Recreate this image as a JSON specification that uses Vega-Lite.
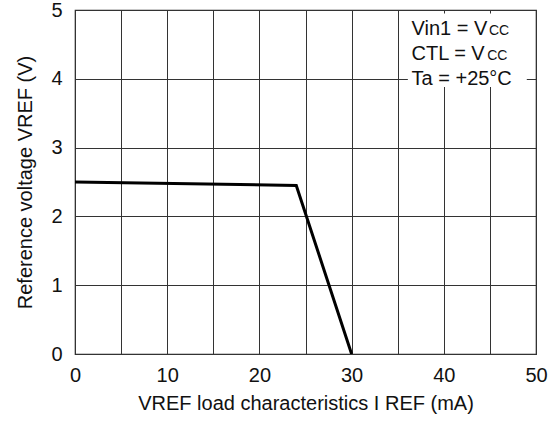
{
  "$schema": "https://vega.github.io/schema/vega-lite/v6.json",
  "width": 461,
  "height": 344,
  "autosize": {"type": "none"},
  "padding": {"left": 75, "top": 10, "right": 16, "bottom": 69},
  "config": {
    "font": "Liberation Sans",
    "view": {"stroke": "#222", "strokeWidth": 1.2},
    "axis": {
      "grid": true,
      "gridColor": "#333",
      "gridOpacity": 1,
      "gridWidth": 1,
      "ticks": false,
      "domain": false,
      "labelFontSize": 20,
      "labelColor": "#111",
      "labelFont": "Liberation Sans",
      "titleFont": "Liberation Sans",
      "titleFontSize": 20,
      "titleFontWeight": "normal",
      "titleColor": "#111",
      "labelFlush": false,
      "labelOverlap": false,
      "labelBound": false
    }
  },
  "layer": [
    {
      "data": {"values": [
        {"i": 0, "v": 2.5},
        {"i": 24, "v": 2.45},
        {"i": 30, "v": 0}
      ]},
      "mark": {"type": "line", "color": "black", "strokeWidth": 3, "clip": true},
      "encoding": {
        "x": {"field": "i", "type": "quantitative",
          "scale": {"domain": [0, 50], "nice": false, "zero": false},
          "axis": {
            "values": [0, 5, 10, 15, 20, 25, 30, 35, 40, 45, 50],
            "format": "~g",
            "labelExpr": "datum.value % 10 === 0 ? datum.label : ''",
            "labelPadding": 11,
            "title": "VREF load characteristics I REF (mA)",
            "titlePadding": 8
          }},
        "y": {"field": "v", "type": "quantitative",
          "scale": {"domain": [0, 5], "nice": false, "zero": false},
          "axis": {
            "values": [0, 0.5, 1, 1.5, 2, 2.5, 3, 3.5, 4, 4.5, 5],
            "format": "~g",
            "labelExpr": "datum.value % 1 === 0 ? datum.label : ''",
            "labelPadding": 13,
            "title": "Reference voltage VREF (V)",
            "titlePadding": 15
          }}
      }
    },
    {
      "data": {"values": [{"x1": 36.1, "x2": 49.0, "y1": 3.88, "y2": 4.95}]},
      "mark": {"type": "rect", "fill": "white", "stroke": null},
      "encoding": {
        "x": {"field": "x1", "type": "quantitative"},
        "x2": {"field": "x2"},
        "y": {"field": "y1", "type": "quantitative"},
        "y2": {"field": "y2"}
      }
    },
    {
      "data": {"values": [
        {"x": 36.5, "y": 4.637, "t": "Vin1 = V"},
        {"x": 36.5, "y": 4.273, "t": "CTL = V"},
        {"x": 36.5, "y": 3.91, "t": "Ta = +25°C"}
      ]},
      "mark": {"type": "text", "align": "left", "baseline": "alphabetic", "fontSize": 20, "font": "Liberation Sans", "color": "#111"},
      "encoding": {
        "x": {"field": "x", "type": "quantitative"},
        "y": {"field": "y", "type": "quantitative"},
        "text": {"field": "t"}
      }
    },
    {
      "data": {"values": [
        {"x": 44.9, "y": 4.637, "t": "CC"},
        {"x": 44.7, "y": 4.273, "t": "CC"}
      ]},
      "mark": {"type": "text", "align": "left", "baseline": "alphabetic", "fontSize": 14, "font": "Liberation Sans", "color": "#111"},
      "encoding": {
        "x": {"field": "x", "type": "quantitative"},
        "y": {"field": "y", "type": "quantitative"},
        "text": {"field": "t"}
      }
    }
  ]
}
